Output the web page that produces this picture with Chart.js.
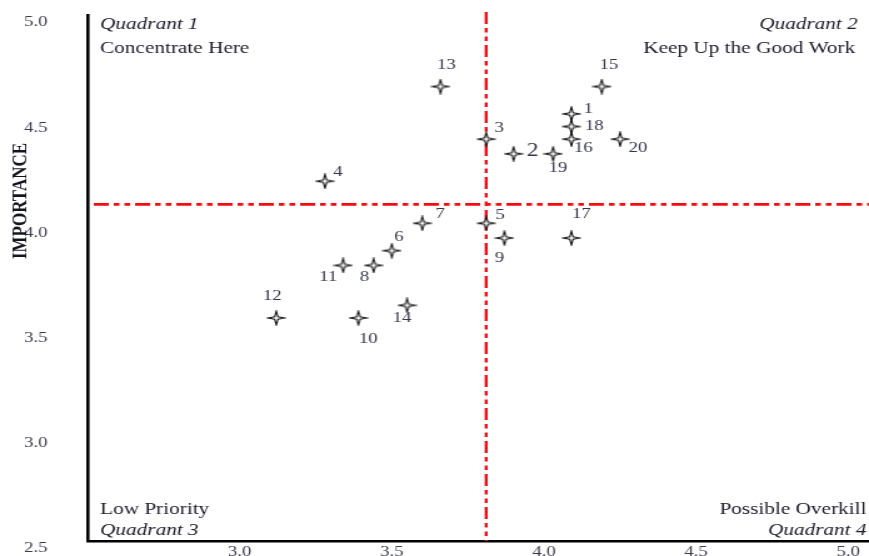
<!DOCTYPE html>
<html>
<head>
<meta charset="utf-8">
<title>Importance-Performance Grid</title>
<script src="https://cdn.jsdelivr.net/npm/chart.js@4.4.1/dist/chart.umd.min.js"></script>
<style>
  html, body { margin: 0; padding: 0; background: #fff; overflow: hidden; }
  #ipa { display: block; }
</style>
</head>
<body>
<!-- the reference is stretched sideways, so the canvas is drawn narrow and shown wide -->
<canvas id="ipa" width="695" height="556" style="width:869px;height:556px"></canvas>
<script>
const STRETCH = 869 / 695;

// Attribute numbers and their scores
const itemIds = ['1', '2', '3', '4', '5', '6', '7', '8', '9', '10',
  '11', '12', '13', '14', '15', '16', '17', '18', '19', '20'];
const performance = [4.09, 3.90, 3.81, 3.28, 3.81, 3.50, 3.60, 3.44, 3.87, 3.39,
  3.34, 3.12, 3.66, 3.55, 4.19, 4.09, 4.09, 4.09, 4.03, 4.25];
const importance = [4.53, 4.34, 4.41, 4.21, 4.01, 3.88, 4.01, 3.81, 3.94, 3.56,
  3.81, 3.56, 4.66, 3.62, 4.66, 4.41, 3.94, 4.47, 4.34, 4.41];

// Cross-hair (grand means)
const performanceMean = 3.81;
const importanceMean = 4.10;

// Axis ticks
const xTicks = [3.0, 3.5, 4.0, 4.5, 5.0];
const yTicks = [2.5, 3.0, 3.5, 4.0, 4.5, 5.0];
const xRange = [2.5, 5.064];
const yRange = [2.5, 5.0];

const yTitle = 'IMPORTANCE';
const quadrantText = {
  q1: ['Quadrant 1', 'Concentrate Here'],
  q2: ['Quadrant 2', 'Keep Up the Good Work'],
  q3: ['Low Priority', 'Quadrant 3'],
  q4: ['Possible Overkill', 'Quadrant 4']
};

// Label placement around each marker (screen px, dx / dy)
const labelOffsets = [[17, -5], [19, -3], [13, -11], [13, -9], [14, -8], [7, -14], [18, -9], [-9, 12], [-5, 20], [10, 21],
  [-15, 12], [-4, -22], [6, -21], [-5, 13], [7, -21], [12, 9], [10, -24], [23, 0], [5, 14], [18, 9]];

const SERIF = '"Liberation Serif", "Times New Roman", serif';
const RED = 'rgb(245, 12, 18)';
Chart.defaults.font.family = SERIF;

// Four pointed star marker
function starMarker() {
  const c = document.createElement('canvas');
  c.width = 16;
  c.height = 16;
  const g = c.getContext('2d');
  g.beginPath();
  for (let i = 0; i < 8; i++) {
    const a = -Math.PI / 2 + i * Math.PI / 4;
    const rad = i % 2 ? 1.8 : 7;
    g.lineTo(8 + rad * Math.cos(a), 8 + rad * Math.sin(a));
  }
  g.closePath();
  g.fillStyle = '#fff';
  g.fill();
  g.lineWidth = 1.1;
  g.strokeStyle = '#111';
  g.stroke();
  return c;
}

// keep the plot box fixed, labels may hang over the edges
function noPadding(s) {
  s.paddingTop = 0;
  s.paddingBottom = 0;
  s.paddingLeft = 0;
  s.paddingRight = 0;
}

// Quadrant lines, point numbers and captions
const ipaDecor = {
  id: 'ipaDecor',
  beforeDatasetsDraw(chart) {
    const { ctx, chartArea: a, scales } = chart;
    const px = scales.x.getPixelForValue(performanceMean);
    const py = scales.y.getPixelForValue(importanceMean);
    ctx.save();
    ctx.strokeStyle = RED;
    ctx.setLineDash([12, 4, 4.5, 4, 4.5, 4]);
    ctx.lineWidth = 2.4;
    ctx.beginPath();
    ctx.moveTo(px, a.top - 3);
    ctx.lineTo(px, a.bottom);
    ctx.stroke();
    ctx.lineWidth = 2.6;
    ctx.beginPath();
    ctx.moveTo(a.left + 5, py);
    ctx.lineTo(chart.width, py);
    ctx.stroke();
    ctx.restore();
  },
  afterDatasetsDraw(chart) {
    const { ctx, chartArea: a } = chart;
    const meta = chart.getDatasetMeta(0);
    ctx.save();

    // point numbers
    ctx.fillStyle = '#34344a';
    ctx.textAlign = 'center';
    ctx.textBaseline = 'middle';
    meta.data.forEach((pt, i) => {
      const [dx, dy] = labelOffsets[i];
      ctx.font = (itemIds[i] === '2' ? 19 : 15) + 'px ' + SERIF;
      ctx.fillText(itemIds[i], pt.x + dx / STRETCH, pt.y + dy);
    });

    // quadrant captions
    ctx.fillStyle = '#1c1c2a';
    ctx.textBaseline = 'alphabetic';
    const italic = 'italic 17px ' + SERIF;
    const plain = '17px ' + SERIF;
    const left = a.left + 10;
    const right = a.right - 1;
    ctx.textAlign = 'left';
    ctx.font = italic; ctx.fillText(quadrantText.q1[0], left, 29);
    ctx.font = plain; ctx.fillText(quadrantText.q1[1], left, 53);
    ctx.font = plain; ctx.fillText(quadrantText.q3[0], left, 514);
    ctx.font = italic; ctx.fillText(quadrantText.q3[1], left, 535);
    ctx.textAlign = 'right';
    ctx.font = italic; ctx.fillText(quadrantText.q2[0], right - 7, 29);
    ctx.font = plain; ctx.fillText(quadrantText.q2[1], right - 9, 53);
    ctx.font = plain; ctx.fillText(quadrantText.q4[0], right, 514);
    ctx.font = italic; ctx.fillText(quadrantText.q4[1], right, 535);

    // y axis title
    ctx.translate(21 / STRETCH, 201);
    ctx.rotate(-Math.PI / 2);
    ctx.textAlign = 'center';
    ctx.textBaseline = 'middle';
    ctx.font = 'bold 17px ' + SERIF;
    ctx.fillStyle = '#15151f';
    ctx.fillText(yTitle, 0, 0);
    ctx.restore();
  }
};

new Chart(document.getElementById('ipa'), {
  type: 'scatter',
  data: {
    datasets: [{
      data: performance.map((x, i) => ({ x: x, y: importance[i] })),
      pointStyle: starMarker(),
      pointRadius: 8,
      showLine: false
    }]
  },
  options: {
    responsive: false,
    devicePixelRatio: 1,
    animation: false,
    layout: { autoPadding: false, padding: { top: 15, right: 1, bottom: 0, left: 0 } },
    plugins: { legend: { display: false }, tooltip: { enabled: false } },
    scales: {
      x: {
        type: 'linear',
        bounds: 'data',
        min: xRange[0],
        max: xRange[1],
        afterBuildTicks: s => {
          s.ticks = xTicks.map(v => ({ value: v }));
          s.min = xRange[0];
          s.max = xRange[1];
        },
        afterFit: s => { s.height = 15; noPadding(s); },
        grid: { display: false, drawTicks: false },
        border: { display: true, color: '#000', width: 2.5 },
        ticks: {
          padding: 2,
          maxRotation: 0,
          color: '#3b3b4c',
          font: { size: 15 },
          callback: v => Number(v).toFixed(1)
        }
      },
      y: {
        type: 'linear',
        bounds: 'data',
        min: yRange[0],
        max: yRange[1],
        afterBuildTicks: s => {
          s.ticks = yTicks.map(v => ({ value: v }));
          s.min = yRange[0];
          s.max = yRange[1];
        },
        afterFit: s => { s.width = 70; noPadding(s); },
        grid: { display: false, drawTicks: false },
        border: { display: true, color: '#000', width: 2.6 },
        ticks: {
          padding: 32,
          align: 'start',
          color: '#3b3b4c',
          font: { size: 15 },
          callback: v => Number(v).toFixed(1)
        }
      }
    }
  },
  plugins: [ipaDecor]
});
</script>
</body>
</html>
